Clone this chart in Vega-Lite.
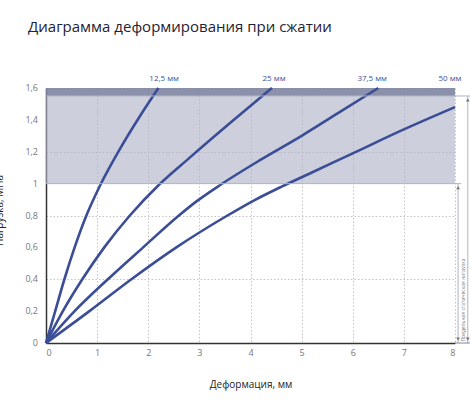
{
  "$schema": "https://vega.github.io/schema/vega-lite/v6.json",
  "width": 409,
  "height": 255,
  "autosize": {"type": "none"},
  "padding": {"left": 46, "top": 88, "right": 15, "bottom": 57},
  "background": "white",
  "config": {
    "view": {"stroke": null},
    "font": "Open Sans",
    "axis": {"labelOverlap": false}
  },
  "title": {
    "text": "Диаграмма деформирования при сжатии",
    "anchor": "start",
    "frame": "group",
    "dx": -18,
    "offset": 40,
    "fontSize": 15,
    "fontWeight": "normal",
    "font": "Open Sans",
    "color": "#1f2233"
  },
  "datasets": {
    "bands": [
      {"y": 1.0, "y2": 1.55, "kind": "light"},
      {"y": 1.55, "y2": 1.6, "kind": "dark"}
    ],
    "ylabels": [
      {"y": 0, "t": "0"},
      {"y": 0.2, "t": "0,2"},
      {"y": 0.4, "t": "0,4"},
      {"y": 0.6, "t": "0,6"},
      {"y": 0.8, "t": "0,8"},
      {"y": 1.0, "t": "1"},
      {"y": 1.2, "t": "1,2"},
      {"y": 1.4, "t": "1,4"},
      {"y": 1.6, "t": "1,6"}
    ],
    "refs": [
      {"x": 0, "x2": 8.12, "y": 1.0, "y2": 1.0, "kind": "gray"},
      {"x": 0, "x2": 8.35, "y": 1.55, "y2": 1.55, "kind": "gray"},
      {"x": 8.06, "x2": 8.06, "y": 0, "y2": 1.0, "kind": "gray"},
      {"x": 8.25, "x2": 8.25, "y": 0, "y2": 1.55, "kind": "gray"},
      {"x": 8.0, "x2": 8.35, "y": 0, "y2": 0, "kind": "dark"}
    ],
    "arrows": [
      {"x": 8.06, "y": 0.975, "dir": "up"},
      {"x": 8.06, "y": 0.025, "dir": "down"},
      {"x": 8.25, "y": 1.525, "dir": "up"},
      {"x": 8.25, "y": 0.025, "dir": "down"}
    ],
    "curves": [
      {"series": "12,5 мм", "x": 0, "y": 0},
      {"series": "12,5 мм", "x": 0.18, "y": 0.2},
      {"series": "12,5 мм", "x": 0.36, "y": 0.4},
      {"series": "12,5 мм", "x": 0.56, "y": 0.6},
      {"series": "12,5 мм", "x": 0.79, "y": 0.8},
      {"series": "12,5 мм", "x": 1.06, "y": 0.99},
      {"series": "12,5 мм", "x": 1.45, "y": 1.22},
      {"series": "12,5 мм", "x": 1.83, "y": 1.42},
      {"series": "12,5 мм", "x": 2.2, "y": 1.6},
      {"series": "25 мм", "x": 0, "y": 0},
      {"series": "25 мм", "x": 0.33, "y": 0.2},
      {"series": "25 мм", "x": 0.71, "y": 0.4},
      {"series": "25 мм", "x": 1.14, "y": 0.6},
      {"series": "25 мм", "x": 1.64, "y": 0.8},
      {"series": "25 мм", "x": 2.2, "y": 0.99},
      {"series": "25 мм", "x": 2.8, "y": 1.16},
      {"series": "25 мм", "x": 3.6, "y": 1.38},
      {"series": "25 мм", "x": 4.42, "y": 1.6},
      {"series": "37,5 мм", "x": 0, "y": 0},
      {"series": "37,5 мм", "x": 0.56, "y": 0.2},
      {"series": "37,5 мм", "x": 1.21, "y": 0.4},
      {"series": "37,5 мм", "x": 1.9, "y": 0.6},
      {"series": "37,5 мм", "x": 2.6, "y": 0.8},
      {"series": "37,5 мм", "x": 2.95, "y": 0.89},
      {"series": "37,5 мм", "x": 3.4, "y": 0.99},
      {"series": "37,5 мм", "x": 4.2, "y": 1.15},
      {"series": "37,5 мм", "x": 5.0, "y": 1.3},
      {"series": "37,5 мм", "x": 5.75, "y": 1.45},
      {"series": "37,5 мм", "x": 6.5, "y": 1.6},
      {"series": "50 мм", "x": 0, "y": 0},
      {"series": "50 мм", "x": 0.85, "y": 0.2},
      {"series": "50 мм", "x": 1.67, "y": 0.4},
      {"series": "50 мм", "x": 2.55, "y": 0.6},
      {"series": "50 мм", "x": 3.55, "y": 0.8},
      {"series": "50 мм", "x": 4.1, "y": 0.9},
      {"series": "50 мм", "x": 4.6, "y": 0.98},
      {"series": "50 мм", "x": 5.2, "y": 1.07},
      {"series": "50 мм", "x": 6.0, "y": 1.19},
      {"series": "50 мм", "x": 7.0, "y": 1.34},
      {"series": "50 мм", "x": 8.0, "y": 1.48}
    ],
    "labels": [
      {"label": "12,5 мм", "x": 2.31, "y": 1.6},
      {"label": "25 мм", "x": 4.46, "y": 1.6},
      {"label": "37,5 мм", "x": 6.38, "y": 1.6},
      {"label": "50 мм", "x": 7.9, "y": 1.6}
    ],
    "note": [
      {"label": "Предельная статическая нагрузка", "x": 8.16, "y": 0.27}
    ]
  },
  "layer": [
    {
      "data": {"name": "bands"},
      "mark": {"type": "rect"},
      "encoding": {
        "y": {"field": "y", "type": "quantitative", "scale": {"domain": [0, 1.6], "nice": false}},
        "y2": {"field": "y2"},
        "color": {"field": "kind", "type": "nominal", "scale": {"domain": ["light", "dark"], "range": ["#aeb3c6", "#7f85a2"]}, "legend": null},
        "opacity": {"field": "kind", "type": "nominal", "scale": {"domain": ["light", "dark"], "range": [0.62, 0.9]}, "legend": null}
      }
    },
    {
      "data": {"name": "curves"},
      "mark": {"type": "line", "interpolate": "monotone", "strokeWidth": 2.6, "color": "#3a4d96", "clip": false},
      "encoding": {
        "x": {
          "field": "x", "type": "quantitative",
          "scale": {"domain": [0, 8], "nice": false},
          "axis": {
            "values": [0, 1, 2, 3, 4, 5, 6, 7, 8],
            "title": "Деформация, мм",
            "titleFontSize": 10,
            "titleFontWeight": "normal",
            "titleColor": "#222",
            "titlePadding": 22,
            "labelFontSize": 9,
            "labelColor": "#777",
            "labelPadding": 5,
            "labelOverlap": false,
            "ticks": false,
            "domainColor": "#333",
            "domainWidth": 1.5,
            "grid": true,
            "gridColor": "#c4c4c4",
            "gridDash": [1.5, 2],
            "gridWidth": 1
          }
        },
        "y": {
          "field": "y", "type": "quantitative",
          "scale": {"domain": [0, 1.6], "nice": false},
          "axis": {
            "values": [0, 0.2, 0.4, 0.6, 0.8, 1, 1.2, 1.4, 1.6],
            "labels": false,
            "title": "Нагрузка, МПа",
            "titleFontSize": 10,
            "titleFontWeight": "normal",
            "titleColor": "#222",
            "titleX": -42,
            "titleY": 122,
            "titleAngle": -90,
            "titleBaseline": "bottom",
            "titleAlign": "center",
            "ticks": false,
            "domainColor": "#333",
            "domainWidth": 1.5,
            "grid": true,
            "gridColor": "#c4c4c4",
            "gridDash": [1.5, 2],
            "gridWidth": 1
          }
        },
        "detail": {"field": "series", "type": "nominal"}
      }
    },
    {
      "data": {"name": "ylabels"},
      "mark": {"type": "text", "fontSize": 9, "color": "#777", "align": "right", "baseline": "middle", "dx": -8},
      "encoding": {
        "x": {"datum": 0, "type": "quantitative", "scale": {"domain": [0, 8], "nice": false}},
        "y": {"field": "y", "type": "quantitative", "scale": {"domain": [0, 1.6], "nice": false}},
        "text": {"field": "t"}
      }
    },
    {
      "data": {"name": "refs"},
      "mark": {"type": "rule", "strokeWidth": 1},
      "encoding": {
        "x": {"field": "x", "type": "quantitative", "scale": {"domain": [0, 8], "nice": false}},
        "x2": {"field": "x2"},
        "y": {"field": "y", "type": "quantitative", "scale": {"domain": [0, 1.6], "nice": false}},
        "y2": {"field": "y2"},
        "color": {"field": "kind", "type": "nominal", "scale": {"domain": ["gray", "dark"], "range": ["#8d909c", "#333333"]}, "legend": null}
      }
    },
    {
      "data": {"name": "arrows"},
      "mark": {"type": "point", "filled": true, "size": 14, "color": "#777", "opacity": 1},
      "encoding": {
        "x": {"field": "x", "type": "quantitative", "scale": {"domain": [0, 8], "nice": false}},
        "y": {"field": "y", "type": "quantitative", "scale": {"domain": [0, 1.6], "nice": false}},
        "shape": {"field": "dir", "type": "nominal", "scale": {"domain": ["up", "down"], "range": ["triangle-up", "triangle-down"]}, "legend": null}
      }
    },
    {
      "data": {"name": "labels"},
      "mark": {"type": "text", "fontSize": 8, "color": "#3d4f95", "dy": -9, "baseline": "middle", "align": "center"},
      "encoding": {
        "x": {"field": "x", "type": "quantitative", "scale": {"domain": [0, 8], "nice": false}},
        "y": {"field": "y", "type": "quantitative", "scale": {"domain": [0, 1.6], "nice": false}},
        "text": {"field": "label"}
      }
    },
    {
      "data": {"name": "note"},
      "mark": {"type": "text", "fontSize": 5, "color": "#777", "angle": 270, "baseline": "middle", "align": "center"},
      "encoding": {
        "x": {"field": "x", "type": "quantitative", "scale": {"domain": [0, 8], "nice": false}},
        "y": {"field": "y", "type": "quantitative", "scale": {"domain": [0, 1.6], "nice": false}},
        "text": {"field": "label"}
      }
    }
  ]
}
